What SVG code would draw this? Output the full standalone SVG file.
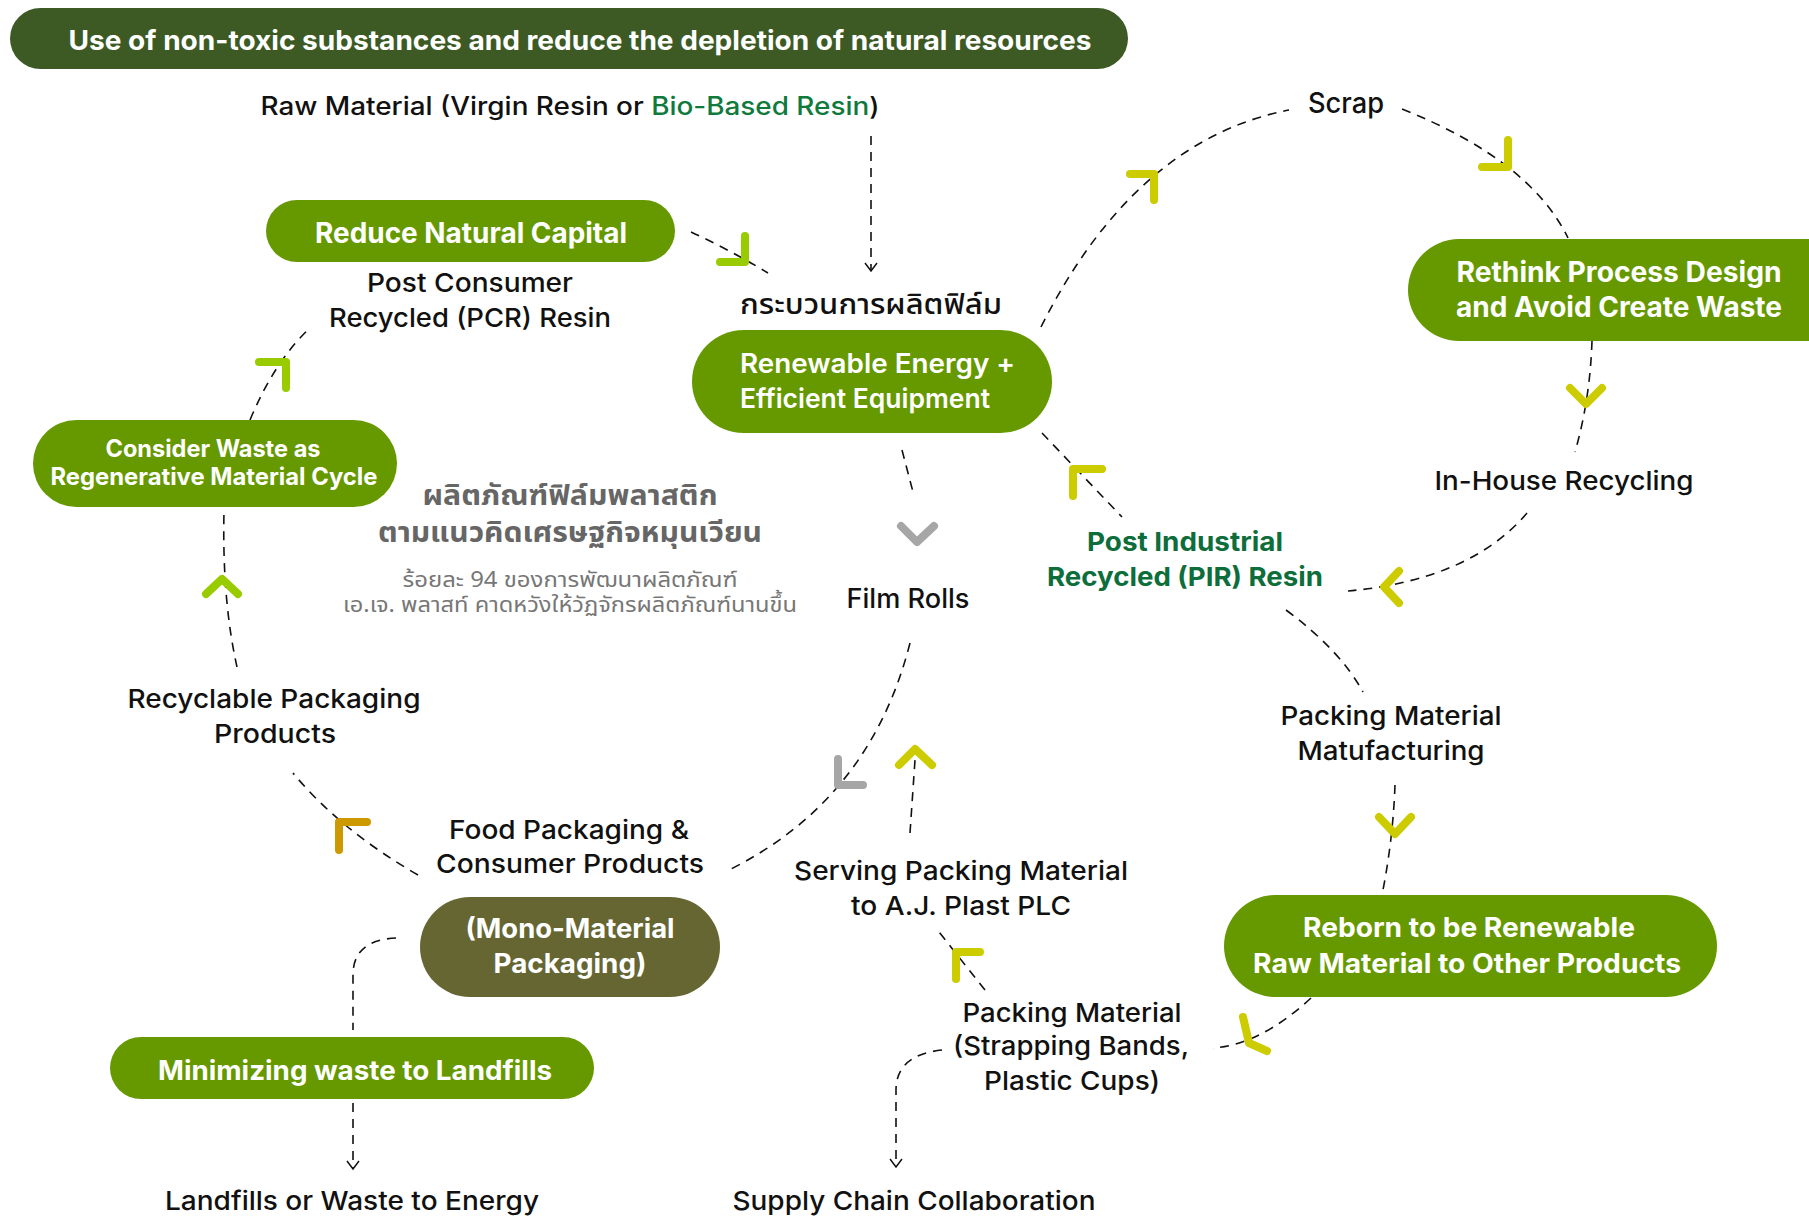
<svg xmlns="http://www.w3.org/2000/svg" width="1809" height="1216" viewBox="0 0 1809 1216">
<style>
text{lengthAdjust:spacingAndGlyphs}
.lbl{font-family:Inter,Roboto,"Liberation Sans",sans-serif;font-weight:500;font-size:26px;fill:#111;text-anchor:middle}
.pt{font-family:Inter,Roboto,"Liberation Sans",sans-serif;font-weight:700;font-size:27px;fill:#fff;text-anchor:middle}
.pir{fill:#0d6e3b;font-weight:700}
.pill{fill:#669900}
.dash{fill:none;stroke:#111;stroke-width:1.6;stroke-dasharray:9 7}
.ah{fill:none;stroke:#111;stroke-width:1.5}
.chev{fill:none;stroke-width:8;stroke-linecap:round;stroke-linejoin:round}
.lime{stroke:#99cc00}
.yel{stroke:#cccc00}
.gold{stroke:#cc9900}
.gray{stroke:#a6a6a6}
.thai{font-family:"Noto Sans Thai","Noto Sans","DejaVu Sans",sans-serif;text-anchor:middle}
.th1{font-size:28px;font-weight:700;fill:#666}
.th2{font-size:22px;font-weight:400;fill:#777}
</style>

<g id="connectors">
  <path class="dash" d="M871,136 V270"/>
  <polyline class="ah" points="865,263 871,271 877,263"/>
  <path class="dash" d="M691,232 Q730,250 768,273"/>
  <path class="dash" d="M250,420 Q275,360 311,327"/>
  <path class="dash" d="M237,667 Q222,600 224,511"/>
  <path class="dash" d="M418,875 Q340,830 293,773"/>
  <path class="dash" d="M910,643 Q870,800 729,870"/>
  <path class="dash" d="M910,833 L915,760"/>
  <path class="dash" d="M985,990 L939,932"/>
  <path class="dash" d="M1311,998 Q1260,1045 1213,1048"/>
  <path class="dash" d="M942,1050 Q896,1055 896,1090 V1166"/>
  <polyline class="ah" points="890,1159 896,1167 902,1159"/>
  <path class="dash" d="M396,938 Q353,940 353,975 V1030"/>
  <path class="dash" d="M353,1103 V1168"/>
  <polyline class="ah" points="347,1161 353,1169 359,1161"/>
  <path class="dash" d="M902,450 L913,492"/>
  <path class="dash" d="M1041,327 Q1135,140 1289,110"/>
  <path class="dash" d="M1402,109 Q1530,160 1568,238"/>
  <path class="dash" d="M1592,341 Q1590,400 1575,452"/>
  <path class="dash" d="M1527,513 Q1470,580 1348,591"/>
  <path class="dash" d="M1042,433 L1122,517"/>
  <path class="dash" d="M1286,610 Q1340,650 1363,692"/>
  <path class="dash" d="M1395,785 Q1393,840 1382,895"/>

  <polyline class="chev lime" points="720,262 745,262 745,236"/>
  <polyline class="chev lime" points="259,362 286,362 286,388"/>
  <polyline class="chev lime" points="206,594 222,579 238,594"/>
  <polyline class="chev gold" points="367,822 339,822 339,850"/>
  <polyline class="chev gray" points="901,526 917,542 934,526"/>
  <polyline class="chev gray" points="838,759 838,785 863,785"/>
  <polyline class="chev yel" points="899,765 915,749 932,765"/>
  <polyline class="chev yel" points="980,952 956,952 956,979"/>
  <polyline class="chev yel" points="1243,1017 1249,1043 1267,1051"/>
  <polyline class="chev yel" points="1379,817 1395,834 1411,817"/>
  <polyline class="chev yel" points="1102,469 1073,469 1073,496"/>
  <polyline class="chev yel" points="1399,571 1384,587 1399,603"/>
  <polyline class="chev yel" points="1570,388 1586,404 1602,388"/>
  <polyline class="chev yel" points="1130,174 1154,174 1154,200"/>
  <polyline class="chev yel" points="1482,167 1508,167 1508,140"/>
</g>

<g id="title">
  <rect x="10" y="8" width="1118" height="61" rx="30.5" fill="#3d5a25"/>
  <text class="pt" x="580" y="50" textLength="1023" lengthAdjust="spacingAndGlyphs">Use of non-toxic substances and reduce the depletion of natural resources</text>
</g>

<g id="raw-material">
  <text class="lbl" x="570" y="115" style="font-size:25px" textLength="619" lengthAdjust="spacingAndGlyphs">Raw Material (Virgin Resin or <tspan fill="#0f7a3c">Bio-Based Resin</tspan>)</text>
</g>

<g id="reduce">
  <rect class="pill" x="266" y="200" width="409" height="62" rx="31"/>
  <text class="pt" x="471" y="243" style="font-size:28px" textLength="312" lengthAdjust="spacingAndGlyphs">Reduce Natural Capital</text>
</g>

<g id="pcr">
  <text class="lbl" x="470" y="292" textLength="206" lengthAdjust="spacingAndGlyphs">Post Consumer</text>
  <text class="lbl" x="470" y="327" textLength="282" lengthAdjust="spacingAndGlyphs">Recycled (PCR) Resin</text>
</g>

<g id="film-process">
  <text class="thai" x="871" y="314" font-size="29" font-weight="500" fill="#111" textLength="262" lengthAdjust="spacingAndGlyphs">กระบวนการผลิตฟิล์ม</text>
</g>

<g id="renewable">
  <rect class="pill" x="692" y="330" width="360" height="103" rx="51.5"/>
  <text x="740" y="373" font-family="Inter,'Open Sans',sans-serif" font-weight="600" font-size="27" fill="#fff" textLength="275" lengthAdjust="spacingAndGlyphs">Renewable Energy +</text>
  <text x="740" y="408" font-family="Inter,'Open Sans',sans-serif" font-weight="600" font-size="27" fill="#fff" textLength="250" lengthAdjust="spacingAndGlyphs">Efficient Equipment</text>
</g>

<g id="scrap">
  <text class="lbl" x="1346" y="113" style="font-size:28px" textLength="76" lengthAdjust="spacingAndGlyphs">Scrap</text>
</g>

<g id="rethink">
  <rect class="pill" x="1408" y="239" width="450" height="102" rx="51"/>
  <text class="pt" x="1619" y="282" style="font-size:28px" textLength="325" lengthAdjust="spacingAndGlyphs">Rethink Process Design</text>
  <text class="pt" x="1619" y="317" style="font-size:28px" textLength="326" lengthAdjust="spacingAndGlyphs">and Avoid Create Waste</text>
</g>

<g id="inhouse">
  <text class="lbl" x="1564" y="490" textLength="259" lengthAdjust="spacingAndGlyphs">In-House Recycling</text>
</g>

<g id="pir">
  <text class="lbl pir" x="1185" y="551" textLength="196" lengthAdjust="spacingAndGlyphs">Post Industrial</text>
  <text class="lbl pir" x="1185" y="586" textLength="276" lengthAdjust="spacingAndGlyphs">Recycled (PIR) Resin</text>
</g>

<g id="packing-mfg">
  <text class="lbl" x="1391" y="725" textLength="221" lengthAdjust="spacingAndGlyphs">Packing Material</text>
  <text class="lbl" x="1391" y="760" textLength="187" lengthAdjust="spacingAndGlyphs">Matufacturing</text>
</g>

<g id="reborn">
  <rect class="pill" x="1224" y="895" width="493" height="102" rx="51"/>
  <text class="pt" x="1469" y="937" textLength="332" lengthAdjust="spacingAndGlyphs">Reborn to be Renewable</text>
  <text class="pt" x="1467" y="973" textLength="428" lengthAdjust="spacingAndGlyphs">Raw Material to Other Products</text>
</g>

<g id="packing-material">
  <text class="lbl" x="1072" y="1022" textLength="219" lengthAdjust="spacingAndGlyphs">Packing Material</text>
  <text class="lbl" x="1071" y="1055" textLength="236" lengthAdjust="spacingAndGlyphs">(Strapping Bands,</text>
  <text class="lbl" x="1072" y="1090" textLength="176" lengthAdjust="spacingAndGlyphs">Plastic Cups)</text>
</g>

<g id="serving">
  <text class="lbl" x="961" y="880" textLength="334" lengthAdjust="spacingAndGlyphs">Serving Packing Material</text>
  <text class="lbl" x="961" y="915" textLength="220" lengthAdjust="spacingAndGlyphs">to A.J. Plast PLC</text>
</g>

<g id="film-rolls">
  <text class="lbl" x="908" y="608" style="font-size:27px" textLength="123" lengthAdjust="spacingAndGlyphs">Film Rolls</text>
</g>

<g id="food">
  <text class="lbl" x="569" y="839" textLength="240" lengthAdjust="spacingAndGlyphs">Food Packaging &amp;</text>
  <text class="lbl" x="570" y="873" textLength="268" lengthAdjust="spacingAndGlyphs">Consumer Products</text>
</g>

<g id="mono">
  <rect x="420" y="897" width="300" height="100" rx="50" fill="#666633"/>
  <text class="pt" x="570" y="938" textLength="209" lengthAdjust="spacingAndGlyphs">(Mono-Material</text>
  <text class="pt" x="570" y="973" textLength="153" lengthAdjust="spacingAndGlyphs">Packaging)</text>
</g>

<g id="minimizing">
  <rect class="pill" x="110" y="1037" width="484" height="62" rx="31"/>
  <text class="pt" x="355" y="1080" textLength="394" lengthAdjust="spacingAndGlyphs">Minimizing waste to Landfills</text>
</g>

<g id="landfills">
  <text class="lbl" x="352" y="1210" textLength="374" lengthAdjust="spacingAndGlyphs">Landfills or Waste to Energy</text>
</g>

<g id="supply">
  <text class="lbl" x="914" y="1210" textLength="363" lengthAdjust="spacingAndGlyphs">Supply Chain Collaboration</text>
</g>

<g id="recyclable">
  <text class="lbl" x="274" y="708" textLength="293" lengthAdjust="spacingAndGlyphs">Recyclable Packaging</text>
  <text class="lbl" x="275" y="743" textLength="122" lengthAdjust="spacingAndGlyphs">Products</text>
</g>

<g id="consider">
  <rect class="pill" x="33" y="420" width="364" height="87" rx="43.5"/>
  <text class="pt" x="213" y="457" style="font-size:24px" textLength="215" lengthAdjust="spacingAndGlyphs">Consider Waste as</text>
  <text class="pt" x="214" y="485" style="font-size:24px" textLength="327" lengthAdjust="spacingAndGlyphs">Regenerative Material Cycle</text>
</g>

<g id="center-text">
  <text class="thai th1" x="570" y="505" textLength="295" lengthAdjust="spacingAndGlyphs">ผลิตภัณฑ์ฟิล์มพลาสติก</text>
  <text class="thai th1" x="570" y="542" textLength="384" lengthAdjust="spacingAndGlyphs">ตามแนวคิดเศรษฐกิจหมุนเวียน</text>
  <text class="thai th2" x="570" y="587" textLength="335" lengthAdjust="spacingAndGlyphs">ร้อยละ 94 ของการพัฒนาผลิตภัณฑ์</text>
  <text class="thai th2" x="570" y="612" textLength="454" lengthAdjust="spacingAndGlyphs">เอ.เจ. พลาสท์ คาดหวังให้วัฏจักรผลิตภัณฑ์นานขึ้น</text>
</g>
</svg>
